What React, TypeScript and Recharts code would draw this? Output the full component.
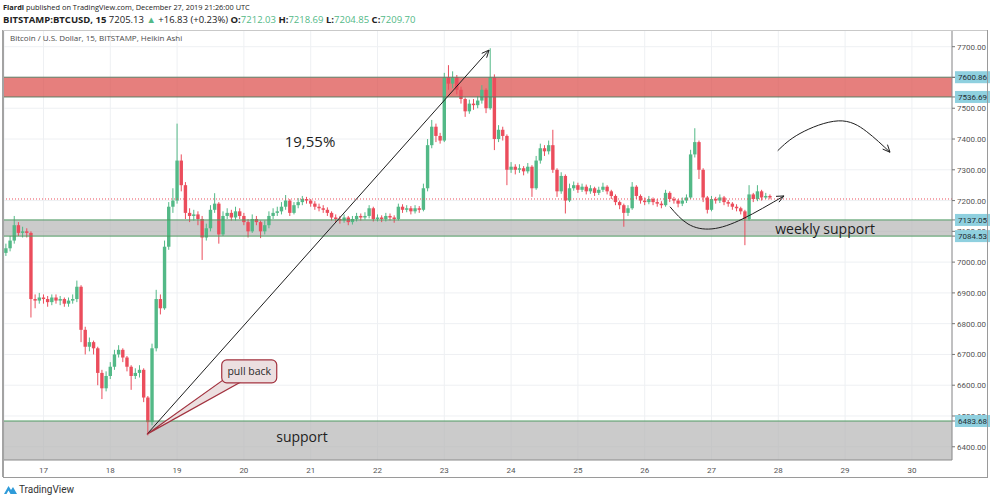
import React from "react";
import {
  ComposedChart,
  Bar,
  Line,
  XAxis,
  YAxis,
  CartesianGrid,
  ReferenceArea,
  ReferenceLine,
  ReferenceDot,
} from "recharts";

// Heikin Ashi candles at a 1.5h step (open = previous close)
const FIRST_OPEN = 7030;
const START_DAY = 16.4375; // Dec 16, 10:30 UTC
const STEP_DAY = 1 / 16;

const CLOSE = [
  7045, 7070, 7120, 7095, 7100, 7095, 6880, 6875, 6885,
  6880, 6870, 6885, 6875, 6880, 6865, 6875, 6880, 6920, 6780, 6725, 6740, 6720, 6640, 6590, 6630,
  6660, 6700, 6715, 6690, 6660, 6630, 6640, 6650, 6560, 6480, 6720, 6880, 6850, 7050, 7180, 7200,
  7330, 7250, 7160, 7150, 7155, 7140, 7080, 7110, 7170, 7190, 7090, 7150, 7160, 7145, 7165, 7150,
  7130, 7100, 7140, 7130, 7100, 7120, 7150, 7160, 7165, 7180, 7200, 7160, 7185, 7195, 7205, 7200,
  7190, 7180, 7175, 7170, 7160, 7145, 7140, 7135, 7145, 7130, 7140, 7150, 7145, 7150, 7175, 7140,
  7145, 7140, 7150, 7145, 7140, 7180, 7170, 7175, 7165, 7175, 7170, 7240, 7380, 7440, 7410, 7395,
  7600, 7580, 7600, 7560, 7530, 7490, 7515, 7510, 7525, 7560, 7500, 7600, 7400, 7430, 7410, 7300,
  7310, 7300, 7305, 7295, 7310, 7240, 7330, 7370, 7360, 7380, 7300, 7230, 7280, 7200, 7240, 7250,
  7235, 7245, 7230, 7240, 7225, 7235, 7245, 7230, 7215, 7195, 7185, 7160, 7175, 7245, 7215, 7200,
  7195, 7205, 7195, 7190, 7185, 7225, 7205, 7200, 7190, 7200, 7210, 7350, 7390, 7300, 7210, 7170,
  7205, 7200, 7210, 7195, 7190, 7180, 7175, 7165, 7140, 7220, 7205, 7230, 7210, 7215, 7210,
];

const HIGH = [
  7060, 7085, 7150, 7130, 7115, 7110, 7100, 6895, 6900,
  6895, 6890, 6895, 6895, 6890, 6885, 6885, 6895, 6940, 6925, 6790, 6755, 6745, 6725, 6650, 6645,
  6675, 6715, 6730, 6720, 6695, 6665, 6655, 6665, 6655, 6565, 6735, 6910, 6895, 7070, 7195, 7240,
  7450, 7350, 7260, 7175, 7170, 7165, 7150, 7125, 7185, 7224, 7195, 7165, 7175, 7170, 7180, 7175,
  7160, 7140, 7155, 7150, 7135, 7135, 7165, 7175, 7180, 7195, 7218, 7205, 7195, 7208, 7215, 7212,
  7205, 7198, 7190, 7185, 7178, 7165, 7155, 7150, 7155, 7150, 7150, 7160, 7158, 7162, 7185, 7180,
  7155, 7152, 7160, 7158, 7152, 7190, 7188, 7185, 7182, 7185, 7182, 7255, 7400, 7462, 7450, 7420,
  7615, 7640, 7620, 7608, 7570, 7535, 7528, 7530, 7540, 7575, 7565, 7695, 7610, 7445, 7440, 7415,
  7325, 7318, 7318, 7312, 7322, 7315, 7345, 7385, 7380, 7395, 7430, 7305, 7292, 7285, 7255, 7262,
  7258, 7255, 7252, 7250, 7245, 7245, 7258, 7250, 7235, 7220, 7200, 7190, 7185, 7260, 7250, 7220,
  7210, 7215, 7210, 7205, 7198, 7235, 7230, 7212, 7205, 7210, 7220, 7365, 7435, 7395, 7305, 7215,
  7215, 7212, 7220, 7215, 7202, 7195, 7188, 7180, 7170, 7250, 7225, 7250, 7235, 7225, 7220,
];

const LOW = [
  7020, 7035, 7060, 7085, 7080, 7080, 6820, 6850, 6865,
  6865, 6855, 6860, 6865, 6860, 6855, 6855, 6865, 6870, 6740, 6700, 6710, 6700, 6600, 6555, 6580,
  6620, 6650, 6690, 6675, 6645, 6585, 6620, 6625, 6545, 6437, 6470, 6710, 6830, 6845, 7040, 7160,
  7190, 7230, 7140, 7130, 7135, 7120, 7007, 7070, 7100, 7160, 7060, 7085, 7140, 7135, 7135, 7140,
  7120, 7080, 7095, 7120, 7078, 7090, 7110, 7140, 7150, 7155, 7170, 7150, 7155, 7175, 7185, 7190,
  7180, 7170, 7165, 7160, 7150, 7135, 7130, 7125, 7128, 7120, 7122, 7132, 7135, 7138, 7142, 7132,
  7132, 7130, 7132, 7135, 7128, 7135, 7160, 7162, 7155, 7158, 7160, 7165, 7230, 7370, 7390, 7385,
  7390, 7560, 7565, 7545, 7515, 7472, 7482, 7495, 7500, 7515, 7484, 7495, 7364, 7390, 7395, 7250,
  7290, 7285, 7290, 7282, 7288, 7212, 7235, 7320, 7345, 7350, 7290, 7212, 7222, 7158, 7195, 7232,
  7225, 7228, 7220, 7222, 7215, 7218, 7228, 7220, 7205, 7185, 7172, 7115, 7150, 7170, 7205, 7190,
  7185, 7188, 7185, 7180, 7175, 7180, 7195, 7190, 7178, 7182, 7192, 7205, 7340, 7270, 7195, 7158,
  7165, 7190, 7192, 7185, 7180, 7170, 7165, 7155, 7055, 7135, 7195, 7198, 7200, 7205, 7204,
];

const DAY_TICKS = [17, 18, 19, 20, 21, 22, 23, 24, 25, 26, 27, 28, 29, 30];
const PRICE_TICKS = [6400, 6500, 6600, 6700, 6800, 6900, 7000, 7100, 7200, 7300, 7400, 7500, 7600, 7700];

const RED_ZONE = [7536.69, 7600.86];
const WEEKLY_ZONE = [7084.53, 7137.05];
const SUPPORT_TOP = 6483.68;
const LAST_PRICE = 7205.13;
const PRICE_TAGS = [RED_ZONE[1], RED_ZONE[0], WEEKLY_ZONE[1], WEEKLY_ZONE[0], SUPPORT_TOP];

// drawings, in (day, price)
const MOVE_ARROW = [{ x: 18.55, y: 6441 }, { x: 23.67, y: 7689 }];
const CALLOUT = [{ x: 18.55, y: 6441 }, { x: 20.08, y: 6645 }];
const LOWER_CURVE = [
  { t: 26.378, y: 7180 },
  { t: 26.648, y: 7124 },
  { t: 27.007, y: 7108 },
  { t: 27.471, y: 7141 },
  { t: 28.085, y: 7215 },
];
const LOWER_HEAD = [{ x: 27.876, y: 7192 }, { x: 28.085, y: 7215 }];
const UPPER_CURVE = [
  { t: 27.991, y: 7362 },
  { t: 28.325, y: 7418 },
  { t: 28.898, y: 7459 },
  { t: 29.323, y: 7424 },
  { t: 29.672, y: 7357 },
];
const UPPER_HEAD = [{ x: 29.52, y: 7393 }, { x: 29.672, y: 7357 }];

const UP = "#53b987";
const DOWN = "#eb4d5c";
const FONT = "'Open Sans', 'Noto Sans', sans-serif";
const AXIS_FONT = "'Liberation Sans Narrow', Roboto, sans-serif";

const candles = CLOSE.map((c, i) => ({
  t: START_DAY + i * STEP_DAY,
  open: i === 0 ? FIRST_OPEN : CLOSE[i - 1],
  close: c,
  high: HIGH[i],
  low: LOW[i],
  range: [LOW[i], HIGH[i]],
}));

const Candle = (props: any) => {
  const { x, y, width, height, payload } = props;
  if (!payload || height == null) return null;
  const top = Math.min(y, y + height);
  const h = Math.abs(height);
  const span = payload.high - payload.low || 1;
  const py = (v: number) => top + ((payload.high - v) / span) * h;
  const up = payload.close >= payload.open;
  const color = up ? UP : DOWN;
  const b1 = py(Math.max(payload.open, payload.close));
  const b2 = py(Math.min(payload.open, payload.close));
  const cx = x + (width || 0) / 2;
  const bw = 3.4;
  return (
    <g>
      <line x1={cx} x2={cx} y1={top} y2={top + h} stroke={color} strokeWidth={1} />
      <rect x={cx - bw / 2} y={b1} width={bw} height={Math.max(1.2, b2 - b1)} fill={color} />
    </g>
  );
};

const head = (x1: number, y1: number, x2: number, y2: number, len = 8) => {
  const a = Math.atan2(y2 - y1, x2 - x1);
  const s = 0.42;
  const ax = x2 - len * Math.cos(a - s);
  const ay = y2 - len * Math.sin(a - s);
  const bx = x2 - len * Math.cos(a + s);
  const by = y2 - len * Math.sin(a + s);
  return `M${ax},${ay} L${x2},${y2} L${bx},${by}`;
};

const ArrowLine = (p: any) => (
  <g>
    <line x1={p.x1} y1={p.y1} x2={p.x2} y2={p.y2} stroke="#1e1e1e" strokeWidth={1} />
    <path d={head(p.x1, p.y1, p.x2, p.y2)} fill="none" stroke="#1e1e1e" strokeWidth={1} />
  </g>
);

const ArrowHead = (p: any) => (
  <path d={head(p.x1, p.y1, p.x2, p.y2)} fill="none" stroke="#1e1e1e" strokeWidth={1} />
);

const Callout = (p: any) => {
  const { x1, y1, x2, y2 } = p;
  const w = 55;
  const h = 23;
  return (
    <g>
      <polygon
        points={`${x1},${y1} ${x2 - 21},${y2 + 5} ${x2 - 9},${y2 + 11}`}
        fill="#ecdfe0"
        stroke="#a2323f"
        strokeWidth={1.2}
      />
      <rect x={x2 - w / 2} y={y2 - h / 2} width={w} height={h} rx={5} fill="#ecdfe0" stroke="#a2323f" strokeWidth={1.2} />
      <text x={x2} y={y2 + 4} textAnchor="middle" fontSize={10.5} fill="#2a2a2a" fontFamily={FONT}>
        pull back
      </text>
    </g>
  );
};

const TextAt = (text: string, size: number) => (p: any) => (
  <text x={p.cx} y={p.cy} textAnchor="middle" dominantBaseline="central" fontSize={size} fill="#1e1e1e" fontFamily={FONT}>
    {text}
  </text>
);

// price axis tick: plain label, or a highlighted tag for the drawn levels
const PriceTick = (props: any) => {
  const { x, y, payload } = props;
  const v = payload.value;
  const isTag = PRICE_TAGS.includes(v);
  if (isTag) {
    return (
      <g>
        <rect x={x - 2} y={y - 6} width={35} height={12} fill="#8fd0df" />
        <text x={x + 15.5} y={y + 3} textAnchor="middle" fontSize={8} fill="#1f2d33" fontFamily={AXIS_FONT}>
          {v.toFixed(2)}
        </text>
      </g>
    );
  }
  return (
    <text x={x} y={y + 3} textAnchor="start" fontSize={8} fill="#555" fontFamily={AXIS_FONT}>
      {v.toFixed(2)}
    </text>
  );
};

const TvLogo = () => (
  <svg width={13} height={11} viewBox="0 0 13 11">
    <path d="M0 10 L4.5 2 L7 6 L9 3 L13 10 Z" fill="#2f9bd9" />
    <path d="M2.5 10 L4.5 6.5 L6.5 10 Z" fill="#fff" />
  </svg>
);

export default function App() {
  const hdr: React.CSSProperties = {
    position: "absolute",
    left: 3,
    fontFamily: FONT,
    color: "#222",
    whiteSpace: "nowrap",
    lineHeight: "12px",
  };
  const teal = { color: "#53b987" };
  return (
    <div style={{ position: "relative", width: 991, height: 500, background: "#fff", overflow: "hidden" }}>
      <style>{"body{margin:0}"}</style>
      <div style={{ ...hdr, top: 1, fontSize: 7.4 }}>
        <b>Fiardi</b> published on TradingView.com, December 27, 2019 21:26:00 UTC
      </div>
      <div style={{ ...hdr, top: 14, fontSize: 9.5 }}>
        <b>BITSTAMP:BTCUSD, 15</b> 7205.13 <span style={teal}>▲</span> +16.83 (+0.23%) <b>O:</b>
        <span style={teal}>7212.03</span> <b>H:</b>
        <span style={teal}>7218.69</span> <b>L:</b>
        <span style={teal}>7204.85</span> <b>C:</b>
        <span style={teal}>7209.70</span>
      </div>

      <div style={{ position: "absolute", left: 0, top: 0 }}>
        <ComposedChart width={991} height={500} data={candles} margin={{ top: 31, right: 0, left: 4, bottom: 23 }}>
          <CartesianGrid stroke="#eef0f3" horizontalValues={PRICE_TICKS} />
          <XAxis
            dataKey="t"
            type="number"
            domain={[16.409, 30.6]}
            allowDataOverflow
            ticks={DAY_TICKS}
            interval={0}
            height={17}
            tickLine={false}
            axisLine={{ stroke: "#8a8a8a" }}
            tick={{ fontSize: 8, fill: "#555", fontFamily: AXIS_FONT }}
            tickMargin={1}
          />
          <YAxis
            orientation="right"
            type="number"
            domain={[6357, 7751]}
            allowDataOverflow
            ticks={[...PRICE_TICKS, ...PRICE_TAGS]}
            interval={0}
            width={39}
            axisLine={{ stroke: "#8a8a8a" }}
            tickLine={{ stroke: "#777" }}
            tickSize={3}
            tickMargin={2}
            tick={<PriceTick />}
          />
          <Bar dataKey="range" barSize={3} shape={Candle} isAnimationActive={false} />

          <ReferenceArea y1={RED_ZONE[0]} y2={RED_ZONE[1]} fill="#dc4d4b" fillOpacity={0.72} stroke="none" />
          <ReferenceArea y1={WEEKLY_ZONE[0]} y2={WEEKLY_ZONE[1]} fill="#b5b5b5" fillOpacity={0.7} stroke="none" />
          <ReferenceArea y1={6357} y2={SUPPORT_TOP} fill="#b5b5b5" fillOpacity={0.7} stroke="none" />

          <ReferenceLine y={RED_ZONE[1]} stroke="#5f7f66" />
          <ReferenceLine y={RED_ZONE[0]} stroke="#5f7f66" />
          <ReferenceLine y={WEEKLY_ZONE[1]} stroke="#4e9a62" />
          <ReferenceLine y={WEEKLY_ZONE[0]} stroke="#4e9a62" />
          <ReferenceLine y={SUPPORT_TOP} stroke="#4e9a62" />
          <ReferenceLine y={LAST_PRICE} stroke={DOWN} strokeDasharray="1 2" />

          <Line data={LOWER_CURVE} dataKey="y" type="natural" stroke="#1e1e1e" strokeWidth={1} dot={false} isAnimationActive={false} />
          <Line data={UPPER_CURVE} dataKey="y" type="natural" stroke="#1e1e1e" strokeWidth={1} dot={false} isAnimationActive={false} />
          <ReferenceLine segment={LOWER_HEAD} shape={ArrowHead} />
          <ReferenceLine segment={UPPER_HEAD} shape={ArrowHead} />
          <ReferenceLine segment={MOVE_ARROW} shape={ArrowLine} />
          <ReferenceLine segment={CALLOUT} shape={Callout} />

          <ReferenceDot x={20.99} y={7393} r={0} shape={TextAt("19,55%", 15)} />
          <ReferenceDot x={20.87} y={6434} r={0} shape={TextAt("support", 14)} />
          <ReferenceDot x={28.7} y={7110} r={0} shape={TextAt("weekly support", 14)} />
        </ComposedChart>
      </div>

      {/* chart frame */}
      <div style={{ position: "absolute", left: 2, top: 30, width: 2, height: 447, background: "#a3a3a3" }} />
      <div style={{ position: "absolute", left: 3, top: 30, width: 985, height: 1, background: "#c9c9c9" }} />
      <div style={{ position: "absolute", left: 987, top: 30, width: 1, height: 448, background: "#9a9a9a" }} />
      <div style={{ position: "absolute", left: 3, top: 477, width: 985, height: 1, background: "#9a9a9a" }} />

      <div style={{ position: "absolute", left: 10, top: 32, fontFamily: FONT, fontSize: 8, color: "#4a4a4a" }}>
        Bitcoin / U.S. Dollar, 15, BITSTAMP, Heikin Ashi
      </div>

      <div style={{ position: "absolute", left: 4, top: 484, display: "flex", alignItems: "center", gap: 2 }}>
        <TvLogo />
        <span style={{ fontFamily: AXIS_FONT, fontSize: 10, color: "#333" }}>TradingView</span>
      </div>
    </div>
  );
}
